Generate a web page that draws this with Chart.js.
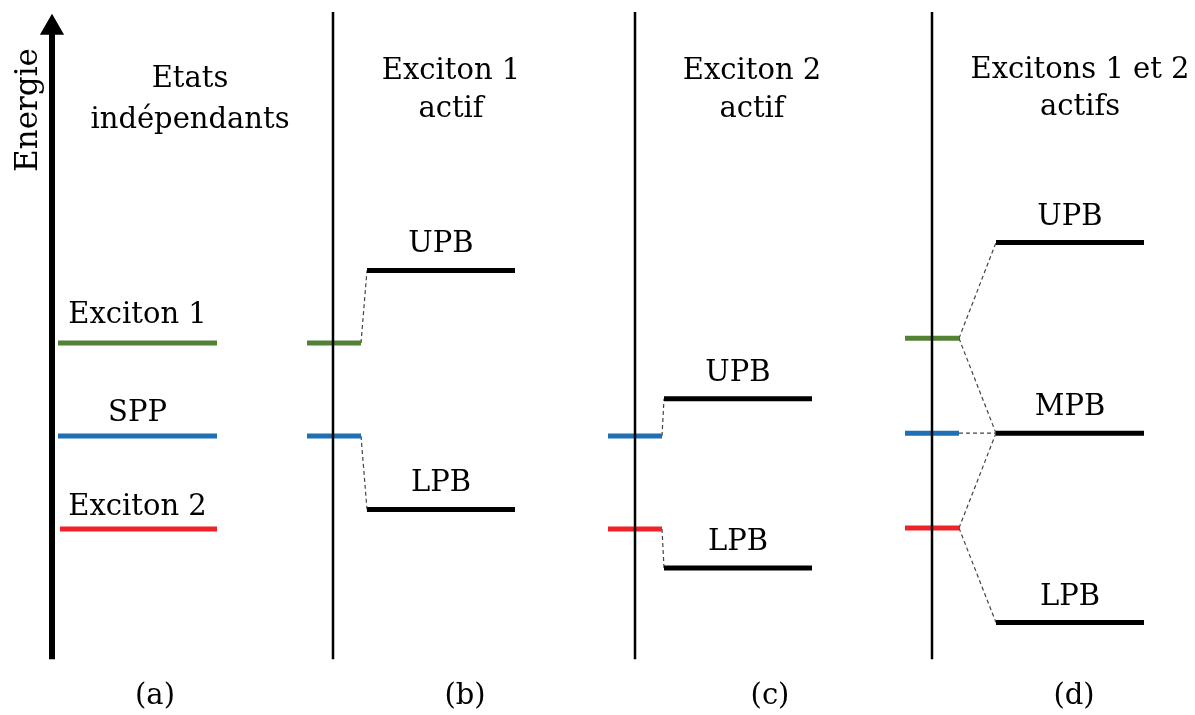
<!DOCTYPE html>
<html>
<head>
<meta charset="utf-8">
<script src="https://cdn.jsdelivr.net/npm/chart.js@4"></script>
<style>
  html, body { margin: 0; padding: 0; background: #fff; }
  #wrap { width: 1195px; height: 715px; position: relative; }
</style>
</head>
<body>
<div id="wrap"><canvas id="diagram"></canvas></div>
<script>
// --- données (énergies en unités arbitraires) ---
const STATE_NAMES = ['Exciton 1', 'SPP', 'Exciton 2'];
const STATE_COLORS = ['#538135', '#1f6fb5', '#ee2227'];

const statesA = [3.0, 2.5, 2.0];          // Etats indépendants
const statesB = [3.0, 2.5];               // Exciton 1 + SPP
const statesC = [2.5, 2.0];               // SPP + Exciton 2
const statesD = [3.025, 2.515, 2.005];    // les trois

const polaritonNamesB = ['UPB', 'LPB'];
const polaritonsB = [3.39, 2.105];
const polaritonNamesC = ['UPB', 'LPB'];
const polaritonsC = [2.70, 1.79];
const polaritonNamesD = ['UPB', 'MPB', 'LPB'];
const polaritonsD = [3.54, 2.515, 1.497];

const panelTitles = [['Etats', 'indépendants'], ['Exciton 1', 'actif'], ['Exciton 2', 'actif'], ['Excitons 1 et 2', 'actifs']];
const panelTags = ['(a)', '(b)', '(c)', '(d)'];

// axe énergie
const AXIS_BOTTOM = 1.30;
const AXIS_TOP = 4.78;
const ARROW_HEAD = 4.695;

// --- mise en page horizontale ---
const FONT = '"DejaVu Serif", serif';
const axisX = [52, 333, 635, 932];
const stateSpan = [[58, 217], [307, 361], [608, 662], [905, 959]];
const polSpan = [null, [367, 515], [664, 812], [996, 1144]];
const titleX = [190, 451, 752, 1080];
const tagX = [155, 465, 770, 1074];

function seg(x0, x1, y0, y1) { return [{ x: x0, y: y0 }, { x: x1, y: y1 }]; }

function levelDs(x0, x1, e, color) {
    return { data: seg(x0, x1, e, e), borderColor: color, borderWidth: 5, pointRadius: 0, borderCapStyle: 'butt' };
}
function dashDs(x0, y0, x1, y1) {
    return { data: seg(x0, x1, y0, y1), borderColor: '#444', borderWidth: 1.2, borderDash: [4, 3], pointRadius: 0 };
}
function vline(x, w) {
    return { data: seg(x, x, AXIS_BOTTOM, AXIS_TOP), borderColor: '#000', borderWidth: w, pointRadius: 0 };
}

const datasets = [];

// flèche énergie
datasets.push({ data: seg(axisX[0], axisX[0], AXIS_BOTTOM, ARROW_HEAD), borderColor: '#000', borderWidth: 6, pointRadius: 0 });
datasets.push({ data: [{ x: axisX[0], y: ARROW_HEAD }], pointStyle: 'triangle', pointRadius: 14, backgroundColor: '#000', borderColor: '#000', borderWidth: 0, showLine: false });

// axes (b)(c)(d)
[1, 2, 3].forEach(i => datasets.push(vline(axisX[i], 2.5)));

// (a)
statesA.forEach((e, i) => datasets.push(levelDs(i === 2 ? 60 : stateSpan[0][0], stateSpan[0][1], e, STATE_COLORS[i])));

// (b)
const colB = [STATE_COLORS[0], STATE_COLORS[1]];
statesB.forEach((e, i) => datasets.push(levelDs(stateSpan[1][0], stateSpan[1][1], e, colB[i])));
polaritonsB.forEach(e => datasets.push(levelDs(polSpan[1][0], polSpan[1][1], e, '#000')));
datasets.push(dashDs(stateSpan[1][1], statesB[0], polSpan[1][0], polaritonsB[0]));
datasets.push(dashDs(stateSpan[1][1], statesB[1], polSpan[1][0], polaritonsB[1]));

// (c)
const colC = [STATE_COLORS[1], STATE_COLORS[2]];
statesC.forEach((e, i) => datasets.push(levelDs(stateSpan[2][0], stateSpan[2][1], e, colC[i])));
polaritonsC.forEach(e => datasets.push(levelDs(polSpan[2][0], polSpan[2][1], e, '#000')));
datasets.push(dashDs(stateSpan[2][1], statesC[0], polSpan[2][0], polaritonsC[0]));
datasets.push(dashDs(stateSpan[2][1], statesC[1], polSpan[2][0], polaritonsC[1]));

// (d)
statesD.forEach((e, i) => datasets.push(levelDs(stateSpan[3][0], stateSpan[3][1], e, STATE_COLORS[i])));
polaritonsD.forEach(e => datasets.push(levelDs(polSpan[3][0], polSpan[3][1], e, '#000')));
const sx = stateSpan[3][1], px = polSpan[3][0];
datasets.push(dashDs(sx, statesD[0], px, polaritonsD[0]));
datasets.push(dashDs(sx, statesD[0], px, polaritonsD[1]));
datasets.push(dashDs(sx, statesD[1], px, polaritonsD[1]));
datasets.push(dashDs(sx, statesD[2], px, polaritonsD[1]));
datasets.push(dashDs(sx, statesD[2], px, polaritonsD[2]));

// textes
const labelPlugin = {
    id: 'labels',
    afterDatasetsDraw(chart) {
        const { ctx, scales: { x, y } } = chart;
        ctx.save();
        ctx.fillStyle = '#000';
        ctx.textAlign = 'center';
        ctx.textBaseline = 'alphabetic';
        ctx.font = '29px ' + FONT;

        // noms des états (a)
        const gaps = [20, 15, 14];
        statesA.forEach((e, i) => {
            ctx.fillText(STATE_NAMES[i], x.getPixelForValue((stateSpan[0][0] + stateSpan[0][1]) / 2), y.getPixelForValue(e) - gaps[i]);
        });

        // noms des polaritons
        const pol = [[1, polaritonNamesB, polaritonsB], [2, polaritonNamesC, polaritonsC], [3, polaritonNamesD, polaritonsD]];
        pol.forEach(([p, names, vals]) => {
            const cx = x.getPixelForValue((polSpan[p][0] + polSpan[p][1]) / 2);
            vals.forEach((e, i) => ctx.fillText(names[i], cx, y.getPixelForValue(e) - 18));
        });

        // titres
        const titleBase = [[87, 128], [79, 117], [79, 117], [78, 115]];
        panelTitles.forEach((t, i) => {
            const cx = x.getPixelForValue(titleX[i]);
            ctx.fillText(t[0], cx, titleBase[i][0]);
            ctx.fillText(t[1], cx, titleBase[i][1]);
        });

        // (a)(b)(c)(d)
        panelTags.forEach((t, i) => ctx.fillText(t, x.getPixelForValue(tagX[i]), 704));

        // Energie
        ctx.save();
        ctx.translate(37, 110);
        ctx.rotate(-Math.PI / 2);
        ctx.font = '31px ' + FONT;
        ctx.fillText('Energie', 0, 0);
        ctx.restore();

        ctx.restore();
    }
};

new Chart(document.getElementById('diagram'), {
    type: 'scatter',
    data: { datasets: datasets.map(d => Object.assign({ showLine: true, fill: false }, d)) },
    options: {
        responsive: true, maintainAspectRatio: false, animation: false,
        layout: { padding: 0, autoPadding: false },
        plugins: { legend: { display: false }, tooltip: { enabled: false } },
        elements: { line: { tension: 0 } },
        scales: {
            x: { type: 'linear', min: 0, max: 1195, display: false },
            y: { type: 'linear', min: 1.0, max: 4.844, display: false }
        }
    },
    plugins: [labelPlugin]
});
</script>
</body>
</html>
